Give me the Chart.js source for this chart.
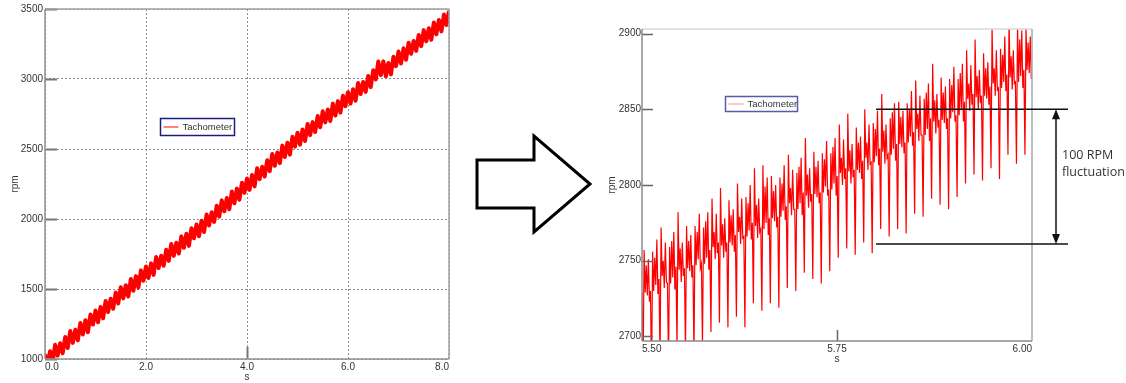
<!DOCTYPE html>
<html>
<head>
<meta charset="utf-8">
<script src="https://cdn.jsdelivr.net/npm/chart.js@4/dist/chart.umd.min.js"></script>
<style>
  body { margin: 0; background: #fff; width: 1126px; height: 383px; position: relative; overflow: hidden; }
  canvas, svg { position: absolute; top: 0; }
</style>
</head>
<body>
<canvas id="overview" width="460" height="383" style="left:0"></canvas>
<svg width="125" height="115" style="left:470px;top:125px">
  <polygon points="7,35 64,35 64,11 120,59 64,107 64,83 7,83" fill="#fff" stroke="#000" stroke-width="3" />
</svg>
<canvas id="detail" width="536" height="383" style="left:590px"></canvas>
<script>
const seriesLabel = "Tachometer";

// whole run, 0..8 s, one reading every 50 ms
const overviewXTicks = [0, 2, 4, 6, 8];
const overviewYTicks = [1000, 1500, 2000, 2500, 3000, 3500];
const overviewStep = 0.05;
const overviewRpm = [
  1034, 950, 1055, 973, 1102, 1024, 1112, 1041, 1157, 1078,
  1200, 1115, 1209, 1133, 1257, 1175, 1277, 1191, 1318, 1246,
  1346, 1262, 1372, 1290, 1414, 1336, 1430, 1359, 1475, 1396,
  1512, 1433, 1527, 1446, 1572, 1487, 1592, 1511, 1633, 1559,
  1661, 1579, 1683, 1601, 1729, 1650, 1737, 1666, 1781, 1701,
  1822, 1737, 1830, 1753, 1876, 1794, 1895, 1808, 1934, 1862,
  1961, 1877, 1988, 1907, 2032, 1954, 2048, 1979, 2095, 2017,
  2133, 2055, 2150, 2069, 2196, 2112, 2217, 2137, 2259, 2187,
  2289, 2208, 2314, 2233, 2363, 2285, 2373, 2304, 2420, 2342,
  2464, 2380, 2475, 2399, 2524, 2443, 2545, 2460, 2587, 2517,
  2616, 2531, 2639, 2557, 2679, 2600, 2692, 2621, 2735, 2655,
  2769, 2690, 2782, 2700, 2824, 2739, 2842, 2760, 2880, 2806,
  2906, 2824, 2927, 2845, 2972, 2893, 2979, 2908, 3022, 2942,
  3062, 2997, 3125, 3028, 3126, 3019, 3115, 3033, 3159, 3092,
  3196, 3111, 3219, 3137, 3259, 3180, 3272, 3201, 3315, 3235,
  3349, 3270, 3362, 3280, 3404, 3319, 3422, 3340, 3460, 3386,
  3486
];

// zoom on 5.50..6.00 s, one row per blade pass
const detailXTicks = [5.5, 5.75, 6.0];
const detailYTicks = [2700, 2750, 2800, 2850, 2900];
const detailStart = 5.5;
const detailStep = 0.00136;
const detailRpm = [
  2729, 2673, 2757, 2729, 2747, 2727, 2751, 2723,
  2730, 2670, 2756, 2730, 2752, 2734, 2764, 2728,
  2738, 2684, 2772, 2740, 2750, 2732, 2762, 2736,
  2735, 2681, 2759, 2735, 2763, 2739, 2769, 2731,
  2746, 2693, 2782, 2744, 2758, 2736, 2762, 2740,
  2745, 2689, 2773, 2745, 2763, 2743, 2767, 2739,
  2747, 2687, 2773, 2747, 2769, 2751, 2781, 2745,
  2748, 2694, 2772, 2748, 2776, 2752, 2782, 2744,
  2757, 2703, 2791, 2759, 2769, 2751, 2781, 2755,
  2762, 2709, 2798, 2760, 2774, 2752, 2778, 2756,
  2762, 2706, 2790, 2762, 2780, 2760, 2784, 2756,
  2767, 2713, 2801, 2769, 2779, 2761, 2791, 2765,
  2766, 2706, 2792, 2766, 2788, 2770, 2800, 2764,
  2775, 2722, 2811, 2773, 2787, 2765, 2791, 2769,
  2771, 2717, 2813, 2771, 2799, 2775, 2805, 2767,
  2778, 2722, 2806, 2778, 2796, 2776, 2800, 2772,
  2779, 2719, 2805, 2779, 2801, 2783, 2813, 2777,
  2786, 2732, 2820, 2788, 2798, 2780, 2810, 2784,
  2784, 2730, 2808, 2784, 2812, 2788, 2818, 2780,
  2795, 2742, 2831, 2793, 2807, 2785, 2811, 2789,
  2794, 2738, 2822, 2794, 2812, 2792, 2816, 2788,
  2795, 2735, 2821, 2795, 2817, 2799, 2829, 2793,
  2797, 2743, 2821, 2797, 2825, 2801, 2831, 2793,
  2806, 2752, 2840, 2808, 2818, 2800, 2830, 2804,
  2811, 2758, 2847, 2809, 2823, 2801, 2827, 2805,
  2810, 2754, 2838, 2810, 2828, 2808, 2832, 2804,
  2816, 2762, 2850, 2818, 2828, 2810, 2840, 2814,
  2815, 2755, 2841, 2815, 2837, 2819, 2849, 2813,
  2824, 2771, 2860, 2822, 2836, 2814, 2840, 2818,
  2820, 2766, 2844, 2820, 2848, 2824, 2854, 2816,
  2827, 2771, 2855, 2827, 2845, 2825, 2849, 2821,
  2828, 2768, 2854, 2828, 2850, 2832, 2862, 2826,
  2835, 2781, 2869, 2837, 2847, 2829, 2859, 2833,
  2833, 2779, 2857, 2833, 2861, 2837, 2867, 2829,
  2844, 2791, 2880, 2842, 2856, 2834, 2860, 2838,
  2843, 2787, 2871, 2843, 2861, 2841, 2865, 2837,
  2844, 2784, 2870, 2844, 2866, 2848, 2878, 2842,
  2846, 2792, 2870, 2846, 2874, 2850, 2880, 2842,
  2855, 2801, 2889, 2857, 2867, 2849, 2879, 2853,
  2860, 2807, 2896, 2858, 2872, 2850, 2876, 2854,
  2859, 2803, 2887, 2859, 2877, 2857, 2881, 2853,
  2865, 2811, 2903, 2867, 2877, 2859, 2889, 2863,
  2864, 2804, 2890, 2864, 2886, 2868, 2898, 2862,
  2873, 2820, 2909, 2871, 2885, 2863, 2889, 2867,
  2868, 2814, 2906, 2868, 2896, 2872, 2902, 2864,
  2876, 2820, 2904, 2876, 2894, 2874, 2898, 2870
];

// marked band on the zoom
const fluctuationFrom = 5.80;
const fluctuationTop = 2850;
const fluctuationBottom = 2761;
const fluctuationText = ["100 RPM", "fluctuation"];

Chart.defaults.font.family = '"Liberation Sans", Arial, sans-serif';
Chart.defaults.font.size = 10;
Chart.defaults.color = "#333";

function tickList(values) {
  return scale => { scale.ticks = values.map(v => ({ value: v })); };
}

function fixBox(size) {
  return scale => {
    if (scale.isHorizontal()) {
      scale.height = size;
      scale.paddingLeft = 0;
      scale.paddingRight = 0;
    } else {
      scale.width = size;
      scale.paddingTop = 0;
      scale.paddingBottom = 0;
    }
  };
}

// frame round the plot + short inner tick marks
const plotFrame = {
  id: "plotFrame",
  afterDatasetsDraw(chart, args, opts) {
    const { ctx, chartArea: a, scales: { x, y } } = chart;
    ctx.save();
    ctx.strokeStyle = opts.tickColor;
    ctx.lineWidth = opts.tickWidth;
    ctx.beginPath();
    y.ticks.forEach(t => {
      const py = Math.round(y.getPixelForValue(t.value)) + 0.5;
      ctx.moveTo(a.left, py);
      ctx.lineTo(a.left + opts.tickLength, py);
    });
    const mid = x.ticks[Math.floor(x.ticks.length / 2)];
    const px = Math.round(x.getPixelForValue(mid.value)) + 0.5;
    ctx.moveTo(px, a.bottom);
    ctx.lineTo(px, a.bottom - opts.tickLength);
    ctx.stroke();

    ctx.lineWidth = opts.width;
    const side = (color, x0, y0, x1, y1) => {
      ctx.strokeStyle = color;
      ctx.beginPath();
      ctx.moveTo(x0, y0);
      ctx.lineTo(x1, y1);
      ctx.stroke();
    };
    side(opts.top, a.left, a.top, a.right, a.top);
    side(opts.right, a.right, a.top, a.right, a.bottom);
    side(opts.bottom, a.left, a.bottom, a.right, a.bottom);
    side(opts.left, a.left, a.top, a.left, a.bottom);
    ctx.restore();
  }
};

// small boxed legend floating inside the plot
const boxLegend = {
  id: "boxLegend",
  afterDraw(chart, args, opts) {
    const { ctx, chartArea: a } = chart;
    const bx = Math.round(a.left + opts.left * a.width) + 0.5;
    const by = Math.round(a.top + opts.top * a.height) + 0.5;
    const mid = by + opts.height / 2;
    ctx.save();
    ctx.fillStyle = "#fff";
    ctx.fillRect(bx, by, opts.width, opts.height);
    ctx.strokeStyle = opts.borderColor;
    ctx.lineWidth = 1.5;
    ctx.strokeRect(bx, by, opts.width, opts.height);
    ctx.strokeStyle = opts.sampleColor;
    ctx.lineWidth = 1.5;
    ctx.beginPath();
    ctx.moveTo(bx + 3, mid);
    ctx.lineTo(bx + 18, mid);
    ctx.stroke();
    ctx.fillStyle = "#333";
    ctx.font = '9.5px "Liberation Sans", Arial, sans-serif';
    ctx.textBaseline = "middle";
    ctx.fillText(chart.data.datasets[0].label, bx + 22, mid + 0.5);
    ctx.restore();
  }
};

// 100 RPM bracket to the right of the zoom
const fluctuation = {
  id: "fluctuation",
  afterDraw(chart, args, opts) {
    const { ctx, chartArea: a, scales: { x, y } } = chart;
    const x0 = x.getPixelForValue(opts.from);
    const x1 = a.right + 36;
    const xa = a.right + 24;
    const yT = y.getPixelForValue(opts.top);
    const yB = y.getPixelForValue(opts.bottom);
    ctx.save();
    ctx.strokeStyle = "#111";
    ctx.fillStyle = "#111";
    ctx.lineWidth = 1.5;
    ctx.beginPath();
    ctx.moveTo(x0, yT); ctx.lineTo(x1, yT);
    ctx.moveTo(x0, yB); ctx.lineTo(x1, yB);
    ctx.moveTo(xa, yT + 6); ctx.lineTo(xa, yB - 6);
    ctx.stroke();
    ctx.beginPath();
    ctx.moveTo(xa, yT); ctx.lineTo(xa - 4, yT + 10); ctx.lineTo(xa + 4, yT + 10); ctx.closePath();
    ctx.moveTo(xa, yB); ctx.lineTo(xa - 4, yB - 10); ctx.lineTo(xa + 4, yB - 10); ctx.closePath();
    ctx.fill();
    ctx.fillStyle = "#333";
    ctx.font = '12.5px "Open Sans", sans-serif';
    ctx.textBaseline = "middle";
    const yc = (yT + yB) / 2;
    ctx.fillText(opts.text[0], xa + 6, yc - 21);
    ctx.fillText(opts.text[1], xa + 6, yc - 4);
    ctx.restore();
  }
};

new Chart(document.getElementById("overview"), {
  type: "line",
  data: {
    datasets: [{
      label: seriesLabel,
      data: overviewRpm.map((v, i) => ({ x: i * overviewStep, y: v })),
      borderColor: "#ff0000",
      borderWidth: 4,
      borderJoinStyle: "round",
      pointRadius: 0,
      tension: 0
    }]
  },
  options: {
    responsive: false,
    animation: false,
    events: [],
    devicePixelRatio: 1,
    layout: { padding: { left: 0, right: 11, top: 9, bottom: 0 } },
    plugins: {
      legend: { display: false },
      tooltip: { enabled: false },
      plotFrame: {
        tickColor: "#777", tickWidth: 2, tickLength: 12, width: 1.5,
        top: "#a0a0a0", right: "#a0a0a0", bottom: "#909090", left: "#909090"
      },
      boxLegend: { left: 0.285, top: 0.311, width: 74, height: 17, borderColor: "#1c1c80", sampleColor: "#ff5a5a" }
    },
    scales: {
      x: {
        type: "linear",
        min: 0,
        max: 8,
        afterBuildTicks: tickList(overviewXTicks),
        afterFit: fixBox(24),
        ticks: { align: "inner", padding: 2, autoSkip: false, maxRotation: 0, callback: v => v.toFixed(1) },
        grid: { color: "#8c8c8c", drawTicks: false },
        border: { display: false, dash: [2, 2] },
        title: { display: true, text: "s", padding: 0 }
      },
      y: {
        min: 1000,
        max: 3500,
        afterBuildTicks: tickList(overviewYTicks),
        afterFit: fixBox(45),
        ticks: { padding: 2, autoSkip: false, callback: v => String(v) },
        grid: { color: "#8c8c8c", drawTicks: false },
        border: { display: false, dash: [2, 2] },
        title: { display: true, text: "rpm", padding: { top: 9, bottom: 0 } }
      }
    }
  },
  plugins: [plotFrame, boxLegend]
});

new Chart(document.getElementById("detail"), {
  type: "line",
  data: {
    datasets: [{
      label: seriesLabel,
      data: detailRpm.map((v, i) => ({ x: detailStart + i * detailStep, y: v })),
      borderColor: "#ff0000",
      borderWidth: 1.2,
      pointRadius: 0,
      tension: 0
    }]
  },
  options: {
    responsive: false,
    animation: false,
    events: [],
    devicePixelRatio: 1,
    layout: { padding: { left: 0, right: 94, top: 29, bottom: 18 } },
    plugins: {
      legend: { display: false },
      tooltip: { enabled: false },
      plotFrame: {
        tickColor: "#666", tickWidth: 1.5, tickLength: 11, width: 1.5,
        top: "#d8d8d8", right: "#a8a8a8", bottom: "#8a8a8a", left: "#8a8a8a"
      },
      boxLegend: { left: 0.213, top: 0.215, width: 72, height: 15, borderColor: "#5a5aa8", sampleColor: "#ffb0b0" },
      fluctuation: { from: fluctuationFrom, top: fluctuationTop, bottom: fluctuationBottom, text: fluctuationText }
    },
    scales: {
      x: {
        type: "linear",
        min: 5.5,
        max: 6.0,
        afterBuildTicks: tickList(detailXTicks),
        afterFit: fixBox(24),
        ticks: { align: "inner", padding: 2, autoSkip: false, maxRotation: 0, callback: v => v.toFixed(2) },
        grid: { display: false, drawTicks: false },
        border: { display: false },
        title: { display: true, text: "s", padding: 0 }
      },
      y: {
        min: 2697,
        max: 2903,
        afterBuildTicks: tickList(detailYTicks),
        afterFit: fixBox(52),
        ticks: { padding: 1, autoSkip: false, callback: v => String(v) },
        grid: { display: false, drawTicks: false },
        border: { display: false },
        title: { display: true, text: "rpm", padding: { top: 16, bottom: 0 } }
      }
    }
  },
  plugins: [plotFrame, boxLegend, fluctuation]
});
</script>
</body>
</html>
